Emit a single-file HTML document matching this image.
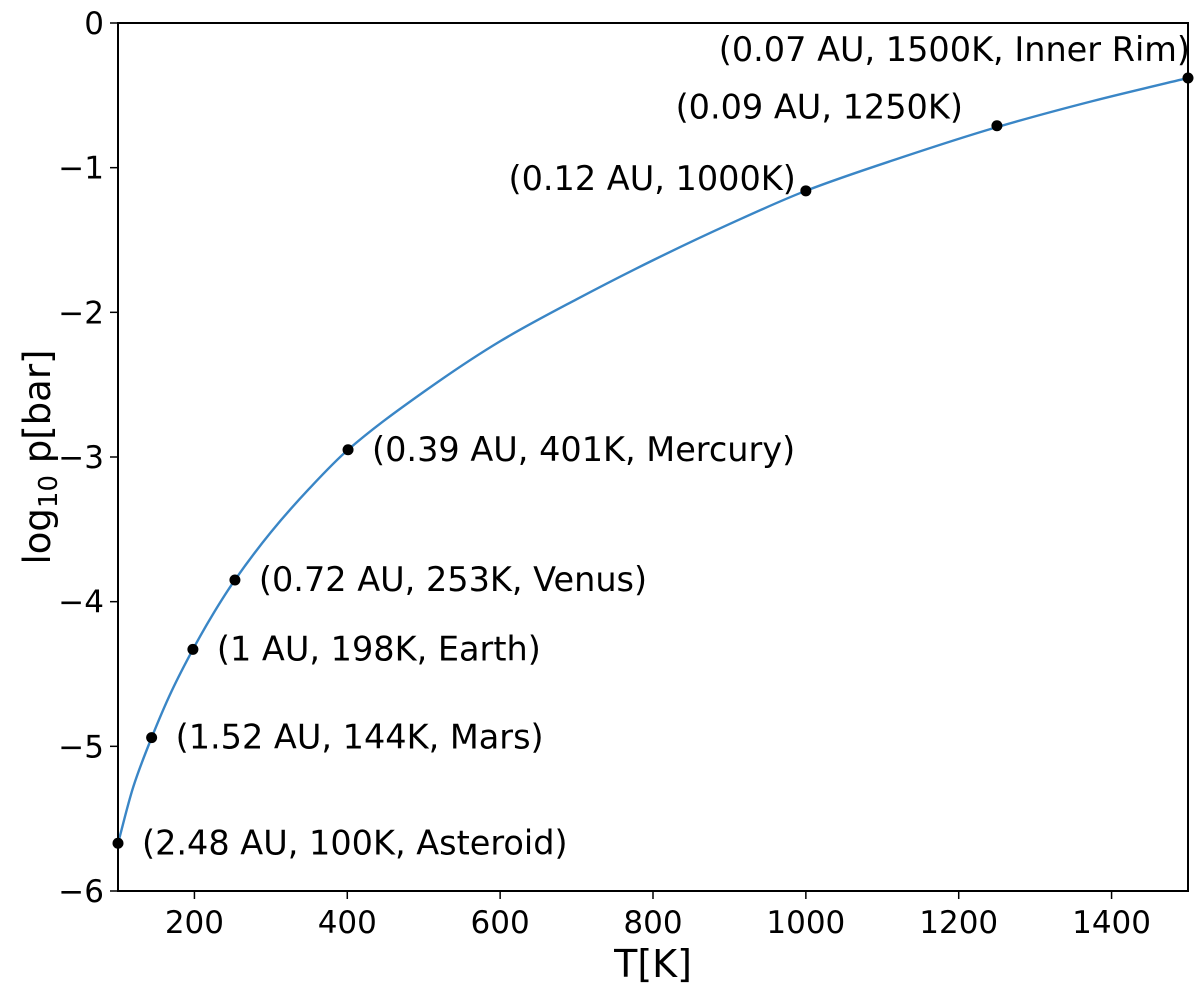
<!DOCTYPE html>
<html><head><meta charset="utf-8"><style>
body{margin:0;background:#fff}
svg{display:block;font-family:"DejaVu Sans","Liberation Sans",sans-serif}
</style></head><body>
<svg id="chart" width="1200" height="988" viewBox="0 0 1200 988">
<rect x="0" y="0" width="1200" height="988" fill="#fff"/>
<g id="ticks"></g>
<path id="curve" fill="none" stroke="#3a86c6" stroke-width="2.4"/>
<g id="points"></g>
<rect x="118" y="23" width="1070" height="868" fill="none" stroke="#000" stroke-width="2"/>
<text x="653" y="977" font-size="38" text-anchor="middle">T[K]</text>
<text transform="translate(50,457) rotate(-90)" font-size="37" text-anchor="middle">log<tspan font-size="26" dy="7">10</tspan><tspan dy="-7"> p[bar]</tspan></text>
</svg>
<script>
const temps=[100,144,198,253,401,1000,1250,1500];
const logp=[-5.67,-4.94,-4.33,-3.85,-2.95,-1.16,-0.71,-0.38];
const labels=["(2.48 AU, 100K, Asteroid)","(1.52 AU, 144K, Mars)","(1 AU, 198K, Earth)","(0.72 AU, 253K, Venus)","(0.39 AU, 401K, Mercury)","(0.12 AU, 1000K)","(0.09 AU, 1250K)","(0.07 AU, 1500K, Inner Rim)"];
const curveT=[100,120,144,170,198,225,253,300,350,401,500,600,700,800,900,1000,1125,1250,1375,1500];
const curveP=[-5.67,-5.28,-4.94,-4.62,-4.33,-4.08,-3.85,-3.52,-3.22,-2.95,-2.55,-2.2,-1.91,-1.64,-1.39,-1.16,-0.93,-0.72,-0.54,-0.38];
const xTicks=[200,400,600,800,1000,1200,1400];
const yTicks=[0,-1,-2,-3,-4,-5,-6];
const X0=118,X1=1188,Y0=891,Y1=23;
const xs=v=>X0+(v-100)/1400*(X1-X0);
const ys=v=>Y0+(v+6)/6*(Y1-Y0);
const NS="http://www.w3.org/2000/svg";
const tg=document.getElementById('ticks');
function mk(tag,attrs,parent){const e=document.createElementNS(NS,tag);for(const k in attrs)e.setAttribute(k,attrs[k]);parent.appendChild(e);return e;}
xTicks.forEach(t=>{
 const l=mk('line',{x1:xs(t),x2:xs(t),y1:Y0,y2:Y0+8,stroke:'#000','stroke-width':1.5},tg);
 
 
 const tx=mk('text',{x:xs(t),y:Y0+42,'font-size':31,'text-anchor':'middle'},tg);
 tx.textContent=t;
 
 
});
yTicks.forEach(t=>{
 const l=mk('line',{x1:X0-8,x2:X0,y1:ys(t),y2:ys(t),stroke:'#000','stroke-width':1.5},tg);
 
 
 const tx=mk('text',{x:X0-14,y:ys(t)+11,'font-size':31,'text-anchor':'end'},tg);
 tx.textContent=t<0?'\u2212'+(-t):t;
 
 
});
const px=curveT.map(xs),py=curveP.map(ys),n=px.length;
const d=[],m=[];
for(let i=0;i<n-1;i++)d.push((py[i+1]-py[i])/(px[i+1]-px[i]));
m[0]=d[0];m[n-1]=d[n-2];
for(let i=1;i<n-1;i++)m[i]=d[i-1]*d[i]<=0?0:2/(1/d[i-1]+1/d[i]);
let p='M'+px[0]+','+py[0];
for(let i=0;i<n-1;i++){const h=px[i+1]-px[i];
 p+=' C'+(px[i]+h/3)+','+(py[i]+m[i]*h/3)+' '+(px[i+1]-h/3)+','+(py[i+1]-m[i+1]*h/3)+' '+px[i+1]+','+py[i+1];}
document.getElementById('curve').setAttribute('d',p);
const pg=document.getElementById('points');
const dy=[0,0,0,0,0,-12,-18,-28];
const dx=[24,24,24,24,24,-10,-34,2];
temps.forEach((t,i)=>{
 const c=mk('circle',{cx:xs(t),cy:ys(logp[i]),r:5.5,fill:'#000'},pg);
 
 
 const right=t>=1000;
 const tx=mk('text',{x:xs(t)+dx[i],y:ys(logp[i])+11+dy[i],'font-size':33.5,'text-anchor':right?'end':'start'},pg);
 tx.textContent=labels[i];
 
 
});
</script>
</body></html>
